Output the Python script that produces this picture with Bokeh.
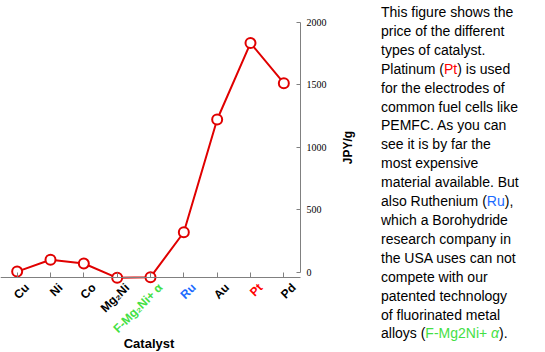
from bokeh.plotting import figure
from bokeh.models import Range1d, LabelSet, ColumnDataSource, Div, Label, FixedTicker
from bokeh.core.properties import value
from bokeh.layouts import row
from bokeh.embed import file_html
from bokeh.resources import INLINE

# ---- data ----
categories = ["Cu", "Ni", "Co", "Mg2Ni", "F-Mg2Ni+a", "Ru", "Au", "Pt", "Pd"]
tick_labels = ["Cu", "Ni", "Co", "Mg\u2082Ni", "F-Mg\u2082Ni+ \u03b1", "Ru", "Au", "Pt", "Pd"]
label_colors = ["black", "black", "black", "black", "#44e044", "#1a6aff", "black", "#ff0000", "black"]
price = [5, 100, 70, -45, -40, 320, 1223, 1835, 1514]
y_ticks = [0, 500, 1000, 1500, 2000]

LINE = "#e00000"
SANS = "Liberation Sans"
AXIS_GRAY = "#808080"

pos = [categories.index(c) for c in categories]
n = len(categories)
y_floor = -43            # where the category axis sits

p = figure(x_range=Range1d(-0.5, 10.84), y_range=Range1d(-643, 2176),
           width=378, height=352, output_backend="svg", toolbar_location=None,
           y_axis_location="right",
           min_border=0, min_border_left=0, min_border_right=0,
           min_border_top=0, min_border_bottom=0)
p.outline_line_color = None
p.grid.visible = False
p.background_fill_color = "white"
p.border_fill_color = "white"

src = ColumnDataSource(dict(x=pos, price=price))
p.line("x", "price", source=src, line_color=LINE, line_width=2)
p.scatter("x", "price", source=src, size=10, fill_color="white",
          line_color=LINE, line_width=2)

# y axis (right side, drawn at the right edge of the categories)
ya = p.yaxis[0]
ya.fixed_location = n - 0.5
ya.ticker = FixedTicker(ticks=y_ticks)
ya.bounds = (0, 2000)
ya.axis_line_color = AXIS_GRAY
ya.major_tick_line_color = AXIS_GRAY
ya.major_tick_in = 4
ya.major_tick_out = 0
ya.minor_tick_line_color = None
ya.major_label_standoff = 6
ya.major_label_text_font = "Liberation Serif"
ya.major_label_text_font_size = "10px"
ya.major_label_text_color = "black"

p.add_layout(Label(x=347, y=352 - 147, x_units="screen", y_units="screen",
                   text="JPY/g", angle=90, angle_units="deg",
                   text_align="center", text_baseline="middle",
                   text_font=SANS, text_font_style="bold", text_font_size="12px",
                   text_color="black"))

# category axis
xa = p.xaxis[0]
xa.fixed_location = y_floor
xa.ticker = FixedTicker(ticks=pos)
xa.bounds = (-0.5, n - 0.5)
xa.axis_line_color = AXIS_GRAY
xa.major_tick_line_color = AXIS_GRAY
xa.major_tick_in = 5
xa.major_tick_out = 0
xa.minor_tick_line_color = None
xa.major_label_text_color = None

lab_src = ColumnDataSource(dict(x=pos, txt=tick_labels, col=label_colors,
                                y=[y_floor] * n))
p.add_layout(LabelSet(x="x", y="y", text="txt", source=lab_src,
                      text_color="col", text_font=value(SANS),
                      text_font_style="bold",
                      text_font_size=value("12px"), angle=45, angle_units="deg",
                      text_align="right", text_baseline="middle",
                      x_offset=10, y_offset=-8))

p.add_layout(Label(x=148.5, y=352 - 343, x_units="screen", y_units="screen",
                   text="Catalyst", text_align="center", text_baseline="middle",
                   text_font=SANS, text_font_style="bold", text_font_size="13px",
                   text_color="black"))

desc = Div(width=167, height=352, margin=(0, 0, 0, 0), text=(
    "<div style=\"font-family:'Liberation Sans',Arial,sans-serif;font-size:14px;"
    "line-height:18.9px;color:#000;padding:3px 0 0 3px;white-space:nowrap;\">"
    "This figure shows the<br>"
    "price of the different<br>"
    "types of catalyst.<br>"
    "Platinum (<span style='color:#ff0000'>Pt</span>) is used<br>"
    "for the electrodes of<br>"
    "common fuel cells like<br>"
    "PEMFC. As you can<br>"
    "see it is by far the<br>"
    "most expensive<br>"
    "material available. But<br>"
    "also Ruthenium (<span style='color:#1a6aff'>Ru</span>),<br>"
    "which a Borohydride<br>"
    "research company in<br>"
    "the USA uses can not<br>"
    "compete with our<br>"
    "patented technology<br>"
    "of fluorinated metal<br>"
    "alloys (<span style='color:#44e044'>F-Mg2Ni+ <i>\u03b1</i></span>)."
    "</div>"))

layout = row(p, desc, margin=(0, 0, 0, 0))
open("out.html", "w").write(file_html(layout, INLINE))
